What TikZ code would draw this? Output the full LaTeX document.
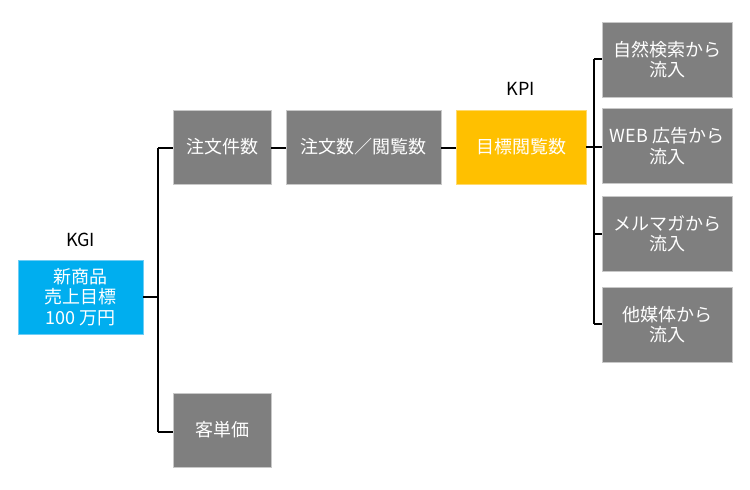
\documentclass[tikz,border=0pt]{standalone}
\usepackage{fontspec}
\setmainfont{Noto Sans CJK JP}
\definecolor{kgiblue}{RGB}{0,174,239}
\definecolor{kgiedge}{RGB}{110,205,245}
\definecolor{boxgray}{RGB}{127,127,127}
\definecolor{grayedge}{RGB}{200,200,200}
\definecolor{kpiyellow}{RGB}{255,192,0}
\definecolor{yellowedge}{RGB}{255,218,110}
\tikzset{
  box/.style={rectangle, draw=grayedge, fill=boxgray, line width=0.8pt, text=white,
    align=center, inner sep=0pt, minimum height=74pt,
    font=\fontsize{18pt}{20.5pt}\selectfont},
  conn/.style={draw=black, line width=1.5pt},
  lbl/.style={font=\fontsize{18pt}{20pt}\selectfont, inner sep=0pt}
}
\begin{document}
\begin{tikzpicture}[x=1pt,y=-1pt]
\useasboundingbox (0,0) rectangle (750,490);
\coordinate (j1) at (158,297);
\coordinate (j1t) at (158,148);
\coordinate (j1b) at (158,432);
\coordinate (j2) at (594,147);
\coordinate (j2t) at (594,59);
\coordinate (j2b) at (594,324);
\coordinate (j2m) at (594,234);

\node[box, fill=kgiblue, draw=kgiedge, minimum width=125pt] (kgi) at (80.5,297) {新商品\\売上目標\\100 万円};
\node[lbl] (kgil) at (80.5,240) {KGI};
\node[box, minimum width=98pt] (order) at (222,147) {注文件数};
\node[box, minimum width=98pt] (price) at (222,430) {客単価};
\node[box, minimum width=155pt] (ratio) at (363.5,147) {注文数／閲覧数};
\node[box, fill=kpiyellow, draw=yellowedge, minimum width=130pt] (kpi) at (521,147) {目標閲覧数};
\node[lbl] (kpil) at (521,89) {KPI};
\node[box, minimum width=130pt, minimum height=75pt] (r1) at (667,59.5) {自然検索から\\流入};
\node[box, minimum width=130pt, minimum height=75pt] (r2) at (667,146) {WEB 広告から\\流入};
\node[box, minimum width=130pt, minimum height=75pt] (r3) at (667,234) {メルマガから\\流入};
\node[box, minimum width=130pt, minimum height=75pt] (r4) at (667,324.5) {他媒体から\\流入};

\draw[conn] (kgi.east) -- (j1);
\draw[conn] (j1t) -- (j1b);
\draw[conn] (j1t) -- (order.west |- j1t);
\draw[conn] (j1b) -- (price.west |- j1b);
\draw[conn] (order.east |- j1t) -- (ratio.west |- j1t);
\draw[conn] (ratio.east |- j1t) -- (kpi.west |- j1t);
\draw[conn] (kpi.east) -- (j2);
\draw[conn] (j2t) -- (j2b);
\draw[conn] (j2t) -- (r1.west |- j2t);
\draw[conn] (j2) -- (r2.west |- j2);
\draw[conn] (j2m) -- (r3.west |- j2m);
\draw[conn] (j2b) -- (r4.west |- j2b);
\end{tikzpicture}
\end{document}
